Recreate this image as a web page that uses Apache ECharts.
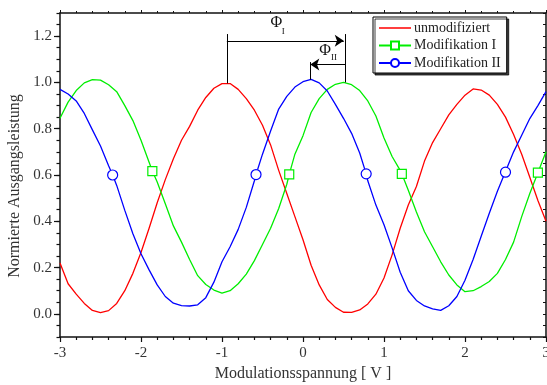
<!DOCTYPE html>
<html>
<head>
<meta charset="utf-8">
<script src="https://cdn.jsdelivr.net/npm/echarts@6/dist/echarts.min.js"></script>
<style>
  html, body { margin: 0; padding: 0; background: #fff; }
  #chart { width: 547px; height: 385px; }
</style>
</head>
<body>
<div id="chart"></div>
<script>
// Modulation voltage samples (V), step 0.1 from -3 to 3
const voltages = [];
for (let i = 0; i <= 60; i++) voltages.push(Math.round((-3 + i * 0.1) * 10) / 10);

// Normalised output power for each configuration
const unmodifiziert = [
  0.22, 0.13, 0.085, 0.045, 0.015, 0.005, 0.014, 0.045, 0.10, 0.175,
  0.265, 0.37, 0.48, 0.58, 0.67, 0.75, 0.81, 0.88, 0.935, 0.975,
  0.995, 0.995, 0.97, 0.93, 0.88, 0.815, 0.73, 0.62, 0.52, 0.42,
  0.32, 0.21, 0.125, 0.062, 0.028, 0.007, 0.006, 0.017, 0.043, 0.085,
  0.155, 0.255, 0.37, 0.47, 0.55, 0.66, 0.74, 0.80, 0.86, 0.905,
  0.945, 0.972, 0.967, 0.945, 0.905, 0.85, 0.775, 0.69, 0.59, 0.49,
  0.40
];
const modifikationI = [
  0.845, 0.915, 0.965, 0.998, 1.012, 1.01, 0.99, 0.96, 0.90, 0.835,
  0.75, 0.655, 0.57, 0.476, 0.38, 0.31, 0.235, 0.165, 0.127, 0.103,
  0.09, 0.10, 0.13, 0.172, 0.23, 0.30, 0.37, 0.455, 0.56, 0.69,
  0.77, 0.87, 0.93, 0.97, 0.992, 1.0, 0.99, 0.965, 0.92, 0.855,
  0.76, 0.68, 0.62, 0.534, 0.44, 0.355, 0.29, 0.225, 0.168, 0.125,
  0.096, 0.10, 0.118, 0.14, 0.175, 0.235, 0.31, 0.42, 0.52, 0.61,
  0.70
];
const modifikationII = [
  0.97, 0.95, 0.92, 0.866, 0.795, 0.725, 0.64, 0.555, 0.447, 0.346,
  0.26, 0.19, 0.125, 0.075, 0.046, 0.036, 0.034, 0.039, 0.07, 0.137,
  0.225, 0.29, 0.365, 0.46, 0.575, 0.69, 0.79, 0.885, 0.94, 0.98,
  1.003, 1.013, 0.998, 0.963, 0.905, 0.845, 0.78, 0.695, 0.575, 0.47,
  0.385, 0.285, 0.18, 0.10, 0.058, 0.034, 0.022, 0.015, 0.035, 0.075,
  0.145, 0.235, 0.335, 0.435, 0.53, 0.615, 0.70, 0.772, 0.844, 0.90,
  0.96
];

// Symbol positions on the two modified curves
const markerXI = [-1.86, -0.17, 1.22, 2.90];
const markerYI = [0.617, 0.603, 0.605, 0.61];
const markerXII = [-2.35, -0.58, 0.78, 2.50];
const markerYII = [0.600, 0.602, 0.605, 0.612];

// Axis tick labels
const xTicks = [-3, -2, -1, 0, 1, 2, 3];
const yTicks = [0, 0.2, 0.4, 0.6, 0.8, 1.0, 1.2];

// Phase shift annotations (data coordinates)
const phiI = { left: -0.94, right: 0.523, level: 1.18, top: 1.209, baseL: 0.996, baseR: 1.0 };
const phiII = { left: 0.09, right: 0.523, level: 1.078, top: 1.088, base: 1.012 };

const FONT = '"Liberation Serif", "DejaVu Serif", serif';

function plainData(ys) {
  return voltages.map((x, i) => ({ value: [x, ys[i]], symbol: 'none' }));
}
function withMarkers(ys, mx, my) {
  const d = plainData(ys);
  mx.forEach((x, i) => d.push({ value: [x, my[i]] }));
  d.sort((a, b) => a.value[0] - b.value[0]);
  return d;
}

const chart = echarts.init(document.getElementById('chart'), null, { renderer: 'canvas' });

const axisLine = { show: true, onZero: false, lineStyle: { color: '#111', width: 1.5 } };
const tickStyle = { color: '#111', width: 1.2 };

// Plain line legend icon: a thin bar centred in a 32x10 box
const lineIcon = 'path://M0,0 L0.01,0 L0.01,0.01 Z M0,4.35 L32,4.35 L32,5.65 L0,5.65 Z M31.99,9.99 L32,9.99 L32,10 Z';

chart.setOption({
  animation: false,
  backgroundColor: '#fff',
  grid: { left: 60, right: 1, top: 13, bottom: 48, outerBoundsMode: 'none' },
  legend: {
    orient: 'vertical',
    left: 373, top: 17,
    padding: [4, 6, 3, 5],
    itemGap: 3.5,
    itemWidth: 32, itemHeight: 10,
    backgroundColor: '#fff',
    borderColor: '#000', borderWidth: 1,
    shadowColor: 'rgba(0,0,0,0.75)', shadowBlur: 0, shadowOffsetX: 2, shadowOffsetY: 2,
    textStyle: { fontFamily: FONT, fontSize: 14, color: '#222', padding: [0, 0, 0, -2] },
    data: [
      { name: 'unmodifiziert', icon: lineIcon, itemStyle: { color: '#ff0000' } },
      'Modifikation I',
      'Modifikation II'
    ]
  },
  xAxis: [
    {
      type: 'value', min: -3, max: 3, interval: 1, position: 'bottom',
      name: 'Modulationsspannung [ V ]', nameLocation: 'middle', nameGap: 28,
      nameTextStyle: { fontFamily: FONT, fontSize: 16, color: '#333' },
      axisLine: axisLine,
      axisTick: { show: true, length: 5, lineStyle: tickStyle },
      minorTick: { show: true, splitNumber: 5, length: 3, lineStyle: tickStyle },
      axisLabel: { fontFamily: FONT, fontSize: 15, color: '#333', margin: 9,
        customValues: xTicks, formatter: v => String(v) },
      splitLine: { show: false }
    },
    {
      type: 'value', min: -3, max: 3, interval: 1, position: 'top',
      axisLine: axisLine,
      axisTick: { show: true, length: 3, lineStyle: { color: '#111', width: 1 } },
      minorTick: { show: true, splitNumber: 5, length: 2, lineStyle: { color: '#111', width: 1 } },
      axisLabel: { show: false }, splitLine: { show: false }
    }
  ],
  yAxis: [
    {
      type: 'value', min: -0.1, max: 1.3, position: 'left',
      name: 'Normierte Ausgangsleistung', nameLocation: 'middle', nameGap: 33,
      nameTextStyle: { fontFamily: FONT, fontSize: 16, color: '#333', padding: [0, 22, 0, 0] },
      axisLine: axisLine,
      axisTick: { show: true, length: 6, customValues: yTicks, lineStyle: tickStyle },
      axisLabel: { fontFamily: FONT, fontSize: 15, color: '#333', margin: 8,
        customValues: yTicks, formatter: v => v.toFixed(1) },
      splitLine: { show: false }
    },
    {
      type: 'value', min: -0.1, max: 1.3, interval: 0.05, position: 'left',
      axisLine: { show: false, onZero: false },
      axisTick: { show: true, length: 3.5, lineStyle: tickStyle },
      axisLabel: { show: false }, splitLine: { show: false }
    },
    {
      type: 'value', min: -0.1, max: 1.3, interval: 0.05, position: 'right',
      axisLine: axisLine,
      axisTick: { show: true, inside: true, length: 3, lineStyle: { color: '#111', width: 1 } },
      axisLabel: { show: false }, splitLine: { show: false }
    }
  ],
  series: [
    {
      name: 'unmodifiziert', type: 'line', xAxisIndex: 0, yAxisIndex: 0,
      data: plainData(unmodifiziert), symbol: 'none',
      color: '#ff0000',
      lineStyle: { color: '#ff0000', width: 1.3 }, z: 3
    },
    {
      name: 'Modifikation I', type: 'line', xAxisIndex: 0, yAxisIndex: 0,
      data: withMarkers(modifikationI, markerXI, markerYI),
      symbol: 'rect', symbolSize: 9, showSymbol: true, showAllSymbol: true,
      color: '#00ee00',
      itemStyle: { color: '#fff', borderColor: '#00ee00', borderWidth: 1.2 },
      lineStyle: { color: '#00ee00', width: 1.3 }, z: 4
    },
    {
      name: 'Modifikation II', type: 'line', xAxisIndex: 0, yAxisIndex: 0,
      data: withMarkers(modifikationII, markerXII, markerYII),
      symbol: 'circle', symbolSize: 10, showSymbol: true, showAllSymbol: true,
      color: '#0000ff',
      itemStyle: { color: '#fff', borderColor: '#0000ff', borderWidth: 1.2 },
      lineStyle: { color: '#0000ff', width: 1.3 }, z: 5
    },
    {
      // Phase shift brackets and arrows
      type: 'lines', coordinateSystem: 'cartesian2d', xAxisIndex: 0, yAxisIndex: 0,
      silent: true, z: 6,
      lineStyle: { color: '#000', width: 1, opacity: 1 },
      symbol: 'none',
      data: [
        { coords: [[phiI.left, phiI.baseL], [phiI.left, phiI.top]] },
        { coords: [[phiI.right, phiI.baseR], [phiI.right, phiI.top]] },
        { coords: [[phiI.left, phiI.level], [phiI.right - 0.02, phiI.level]], symbol: ['none', 'arrow'], symbolSize: 9 },
        { coords: [[phiII.left, phiII.base], [phiII.left, phiII.top]] },
        { coords: [[phiII.right, phiII.level], [phiII.left, phiII.level]], symbol: ['none', 'arrow'], symbolSize: 9 }
      ]
    }
  ]
});

// Φ labels placed through the axis scales
function px(x, y) { return chart.convertToPixel({ xAxisIndex: 0, yAxisIndex: 0 }, [x, y]); }
function label(pos, text, size) {
  return {
    type: 'text', x: pos[0], y: pos[1], z: 10,
    style: { text: text, fontFamily: FONT, fontSize: size, fill: '#111', align: 'center', verticalAlign: 'middle' }
  };
}
chart.setOption({
  graphic: [
    label(px(-0.33, 1.257), 'Φ', 16),
    label(px(-0.245, 1.218), 'I', 9),
    label(px(0.274, 1.135), 'Φ', 16),
    label(px(0.383, 1.105), 'II', 9)
  ]
});
</script>
</body>
</html>
